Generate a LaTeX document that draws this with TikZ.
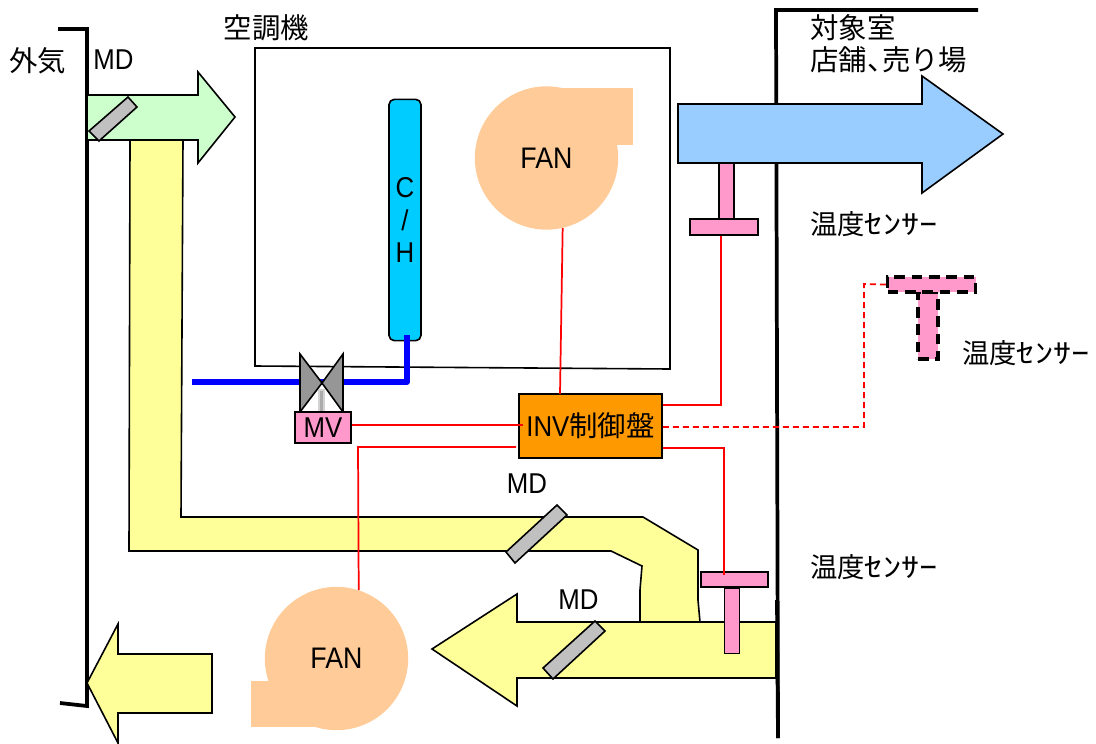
\documentclass[tikz,border=0pt]{standalone}
\usepackage{graphicx}
\usepackage{fontspec}
\setmainfont[FakeStretch=0.9]{Liberation Sans}
\newfontfamily\cjk{Noto Sans CJK JP}
\usetikzlibrary{calc}
\newcommand{\senslabel}{{\cjk\fontsize{20.5}{24}\selectfont 温度\scalebox{1.33}[1]{ｾﾝｻｰ}}}
\tikzset{
  px/.style={x=0.75pt,y=-0.75pt},
  lbl/.style={inner sep=0,font=\fontsize{21.5}{24}\selectfont,text=black},
  jlbl/.style={inner sep=0,font=\cjk\fontsize{21.3}{24}\selectfont,text=black},
  flow/.style={draw=black,line width=1.2pt,line join=miter},
  wall/.style={draw=black,line width=2.8pt,line join=miter},
  damper/.style={draw=black,line width=1.2pt,fill=dgray},
  fanbody/.style={circle,fill=fanc,minimum size=107.5pt,inner sep=0,font=\fontsize{22.3}{24}\selectfont},
  wire/.style={draw=red,line width=1.3pt},
  wired/.style={draw=red,line width=1.3pt,dash pattern=on 4.5pt off 3pt},
  pinkbox/.style={rectangle,draw=black,line width=1.2pt,fill=pinkc,inner sep=0},
  pinkdash/.style={rectangle,draw=black,line width=2.6pt,fill=pinkc,inner sep=0,dash pattern=on 8pt off 5pt},
}
\definecolor{dgray}{HTML}{C0C0C0}
\definecolor{fanc}{HTML}{FFCC99}
\definecolor{pinkc}{HTML}{FF99CC}
\definecolor{ylw}{HTML}{FFFF99}
\definecolor{grn}{HTML}{CCFFCC}
\definecolor{blu}{HTML}{99CCFF}
\definecolor{cyn}{HTML}{00CCFF}
\definecolor{org}{HTML}{FF9900}
\definecolor{vgray}{HTML}{969696}
\begin{document}
\begin{tikzpicture}[px]
\useasboundingbox (0,0) rectangle (1096,743);
% air conditioner casing
\draw[black,line width=1.2pt,fill=white] (255,48) -- (670,48) -- (670,369) -- (255,366) -- cycle;
% walls
\draw[wall] (58,29) -- (87,29) -- (87,706) -- (60,703);
\draw[wall] (978,10) -- (776,10) -- (778,738);
% ducts
\path[flow,fill=ylw] (130,140) -- (183,140) -- (181,517) -- (643,517) -- (698,550) -- (698,600) -- (700,622) -- (640,622) -- (640,590) -- (642,566) -- (611,551) -- (129,551) -- cycle;
\path[flow,fill=grn] (87,95) -- (198,95) -- (198,72) -- (235,117) -- (198,163) -- (198,140) -- (87,140) -- cycle;
\path[flow,fill=ylw] (776,622) -- (517,622) -- (517,594) -- (432,649) -- (517,706) -- (517,678) -- (776,678) -- cycle;
\draw[wall] (777,600) -- (778,738);
\path[flow,fill=blu] (678,104) -- (922,104) -- (922,76) -- (1003,134) -- (922,193) -- (922,163) -- (678,163) -- cycle;
\path[flow,fill=ylw] (212,654) -- (118,654) -- (118,624) -- (87,683) -- (118,743) -- (118,713) -- (212,713) -- cycle;
% dampers
\path[damper] (128,97) -- (137,107) -- (99,141) -- (89,131) -- cycle;
\path[damper] (557,505) -- (567,515) -- (515,563) -- (506,552) -- cycle;
\path[damper] (595,621) -- (605,631) -- (553,679) -- (543,668) -- cycle;
% fans
\fill[fanc] (546,88) rectangle (633,145);
\node[fanbody] (fanA) at (546.5,158) {FAN};
\fill[fanc] (251,681) rectangle (336,727);
\node[fanbody] (fanB) at (336.5,658.5) {FAN};
% coil and pipe
\node[rectangle,rounded corners=4pt,draw=black,line width=1.2pt,fill=cyn,minimum width=24pt,minimum height=181pt,inner sep=0,align=center,font=\fontsize{21.5}{24.4}\selectfont] (coil) at (405,220) {C\\/\\H};
\coordinate (pipeEnd) at (192,382);
\coordinate (pipeBend) at (407,382);
\draw[blue,line width=4.1pt,line join=round] (407,335) -- (pipeBend) -- (pipeEnd);
% valve
\path[draw=black,line width=1.2pt,fill=vgray] (300,354) -- (322,383) -- (300,412) -- cycle;
\path[draw=black,line width=1.2pt,fill=vgray] (343,354) -- (322,383) -- (343,412) -- cycle;
\fill[dgray!70!white] (318,389) rectangle (324.5,412);
\fill[vgray!80!white] (320,391) rectangle (322.5,411);
% MV and INV
\node[pinkbox,minimum width=42pt,minimum height=23pt,font=\fontsize{21.5}{24}\selectfont] (mv) at (323,427.5) {MV};
\node[rectangle,draw=black,line width=1.4pt,fill=org,inner sep=0,minimum width=107pt,minimum height=48pt,font=\fontsize{21.5}{24}\selectfont] (inv) at (590.5,426) {INV{\cjk\fontsize{21.3}{24}\selectfont 制御盤}};
% sensors
\node[pinkbox,minimum width=11pt,minimum height=42pt] (s1stem) at (726.5,191) {};
\node[pinkbox,minimum width=51pt,minimum height=12pt] (s1bar) at (724,227) {};
\node[pinkbox,minimum width=11pt,minimum height=49pt] (s2stem) at (732,621) {};
\node[pinkbox,minimum width=50pt,minimum height=11pt] (s2bar) at (734.5,579.5) {};
\node[pinkdash,minimum width=15pt,minimum height=50pt] (s3stem) at (928,325.5) {};
\node[pinkdash,minimum width=66pt,minimum height=11pt] (s3bar) at (931.5,284.5) {};
% connectors
\coordinate (c1) at (560,394);
\draw[wire] (fanA.283) -- (c1);
\coordinate (c2) at (721,405);
\draw[wire] (s1bar.south -| c2) -- (c2) -- (inv.east |- c2);
\coordinate (c3) at (724,448);
\coordinate (c3end) at (724,575);
\draw[wire] (inv.east |- c3) -- (c3) -- (c3end);
\coordinate (c4) at (523,425);
\draw[wire] (mv.east |- c4) -- (c4);
\coordinate (c5) at (516,447);
\coordinate (c5b) at (358,447);
\draw[wire] (c5) -- (c5b) -- (fanB.72);
\coordinate (c6) at (864,427);
\coordinate (c6b) at (864,284);
\draw[wired] (inv.east |- c6) -- (c6) -- (c6b) -- (s3bar.west);
% labels
\node[jlbl] (t1) at (38,61) {外気};
\node[lbl] (t2) at (113.5,60) {MD};
\node[jlbl] (t3) at (266.5,28) {空調機};
\node[jlbl,anchor=west] (t4) at (810,28) {対象室};
\node[jlbl,anchor=west] (t5) at (810,60) {店舗、\kern-10pt 売り場};
\node[lbl] (t6) at (527,484) {MD};
\node[lbl] (t7) at (578.5,600) {MD};
\node[inner sep=0,anchor=west] (t8) at (810,224) {\senslabel};
\node[inner sep=0,anchor=west] (t9) at (962,353) {\senslabel};
\node[inner sep=0,anchor=west] (t10) at (810,567) {\senslabel};
\end{tikzpicture}
\end{document}
